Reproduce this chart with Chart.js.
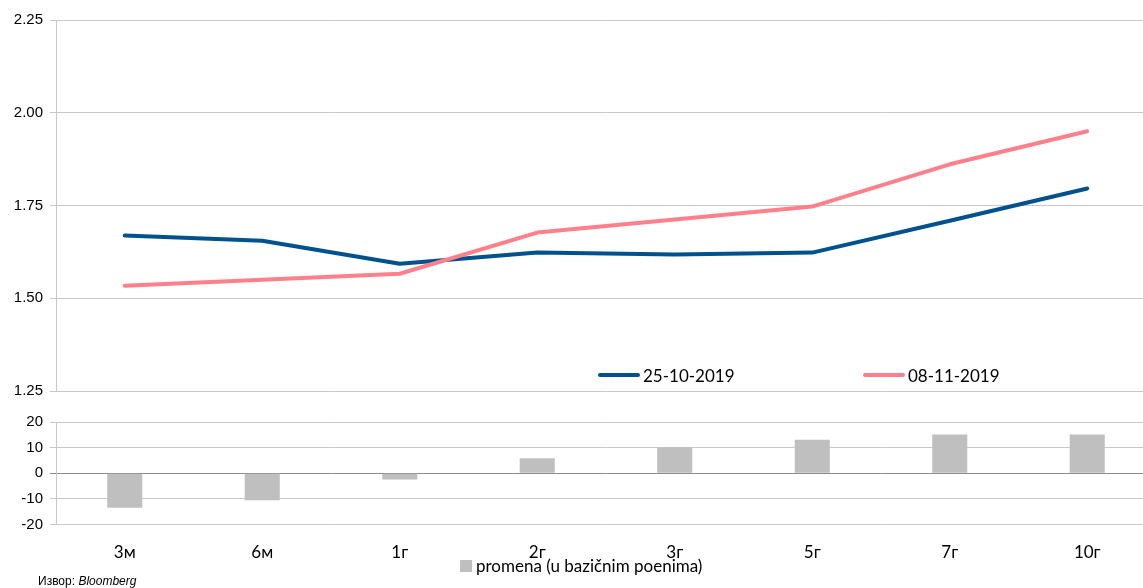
<!DOCTYPE html>
<html>
<head>
<meta charset="utf-8">
<script src="https://cdn.jsdelivr.net/npm/chart.js@4"></script>
<style>
  html, body { margin:0; padding:0; background:#fff; overflow:hidden; width:1143px; height:588px; }
  #wrap { position:relative; width:1156px; height:588px; }
  #top { position:absolute; left:0; top:0; }
  #bottom { position:absolute; left:0; top:400px; }
  #src { position:absolute; left:38px; top:574px; font:12px "Liberation Sans", Arial, sans-serif; color:#000; white-space:nowrap; }
</style>
</head>
<body>
<div id="wrap">
  <canvas id="top" width="1156" height="407"></canvas>
  <canvas id="bottom" width="1156" height="188"></canvas>
  <div id="src">Извор: <i>Bloomberg</i></div>
</div>
<script>
const categories = ['3м','6м','1г','2г','3г','5г','7г','10г'];
const curveOld = [1.669, 1.655, 1.593, 1.623, 1.618, 1.623, 1.709, 1.796];
const curveNew = [1.534, 1.550, 1.566, 1.677, 1.712, 1.747, 1.861, 1.950];
const changeBp = [-13.4, -10.5, -2.4, 5.9, 10.2, 13.1, 15.1, 15.1];
const yieldTicks = [1.25, 1.50, 1.75, 2.00, 2.25];
const changeTicks = [-20, -10, 0, 10, 20];
const labelOld = '25-10-2019';
const labelNew = '08-11-2019';
const labelChange = 'promena (u bazičnim poenima)';

const BLUE = '#00528f', PINK = '#ff808a', GREY = '#bfbfbf', GRID = '#c8c8c8';
const tickFont = { family:'"Liberation Sans", Arial, sans-serif', size:15 };
const textFont = '17px Lato, "Open Sans", sans-serif';

// legend for the two curves, drawn inside the plot near the bottom
const lineLegend = {
  id:'lineLegend',
  afterDraw(chart){
    const { ctx, chartArea:a } = chart;
    const y = a.bottom - 16;
    const spots = [a.left + 544, a.left + 809];
    ctx.save();
    ctx.font = textFont;
    ctx.textBaseline = 'middle';
    ctx.fillStyle = '#000';
    chart.data.datasets.forEach((ds, i) => {
      const x = spots[i];
      ctx.strokeStyle = ds.borderColor;
      ctx.lineWidth = 4;
      ctx.lineCap = 'round';
      ctx.beginPath(); ctx.moveTo(x, y); ctx.lineTo(x + 38, y); ctx.stroke();
      ctx.fillText(ds.label, x + 43, y + 2);
    });
    ctx.restore();
  }
};

const barLegend = {
  id:'barLegend',
  afterDraw(chart){
    const { ctx } = chart;
    const ds = chart.data.datasets[0];
    ctx.save();
    ctx.fillStyle = ds.backgroundColor;
    ctx.fillRect(460, 160, 12, 12);
    ctx.font = textFont;
    ctx.textBaseline = 'middle';
    ctx.fillStyle = '#000';
    ctx.fillText(ds.label, 476, 167);
    ctx.restore();
  }
};

new Chart(document.getElementById('top'), {
  type:'line',
  data:{
    labels: categories,
    datasets:[
      { label:labelOld, data:curveOld, borderColor:BLUE, borderWidth:4, pointRadius:0, tension:0, borderCapStyle:'round', borderJoinStyle:'round', order:1 },
      { label:labelNew, data:curveNew, borderColor:PINK, borderWidth:4, pointRadius:0, tension:0, borderCapStyle:'round', borderJoinStyle:'round', order:0 }
    ]
  },
  options:{
    responsive:false, animation:false,
    layout:{ padding:{ top:20, bottom:3, left:0, right:0 } },
    plugins:{ legend:{ display:false }, tooltip:{ enabled:false } },
    scales:{
      x:{ display:false, offset:true },
      y:{
        min:1.25, max:2.25,
        afterBuildTicks: s => { s.ticks = yieldTicks.map(v => ({ value:v })); },
        afterFit: s => { s.width = 56; },
        grid:{ color:GRID, tickLength:6, lineWidth:1 },
        border:{ color:GRID },
        ticks:{ font:tickFont, color:'#000', padding:7, autoSkip:false, callback:v => Number(v).toFixed(2) }
      }
    }
  },
  plugins:[lineLegend]
});

new Chart(document.getElementById('bottom'), {
  type:'bar',
  data:{
    labels: categories,
    datasets:[{ label:labelChange, data:changeBp, backgroundColor:GREY, borderWidth:0, categoryPercentage:1, barPercentage:0.255 }]
  },
  options:{
    responsive:false, animation:false,
    layout:{ padding:{ top:22, bottom:7, left:0, right:0 } },
    plugins:{ legend:{ display:false }, tooltip:{ enabled:false } },
    scales:{
      x:{
        offset:true,
        grid:{ display:false, drawTicks:false },
        border:{ display:false },
        ticks:{ font:{ family:'Lato, "Open Sans", sans-serif', size:17 }, color:'#000', padding:18 }
      },
      y:{
        min:-20, max:20,
        afterBuildTicks: s => { s.ticks = changeTicks.map(v => ({ value:v })); },
        afterFit: s => { s.width = 56; },
        grid:{ color: c => c.tick && c.tick.value === 0 ? '#8c8c8c' : GRID, tickLength:6, lineWidth:1 },
        border:{ color:GRID },
        ticks:{ font:tickFont, color:'#000', padding:7, autoSkip:false }
      }
    }
  },
  plugins:[barLegend]
});
</script>
</body>
</html>
